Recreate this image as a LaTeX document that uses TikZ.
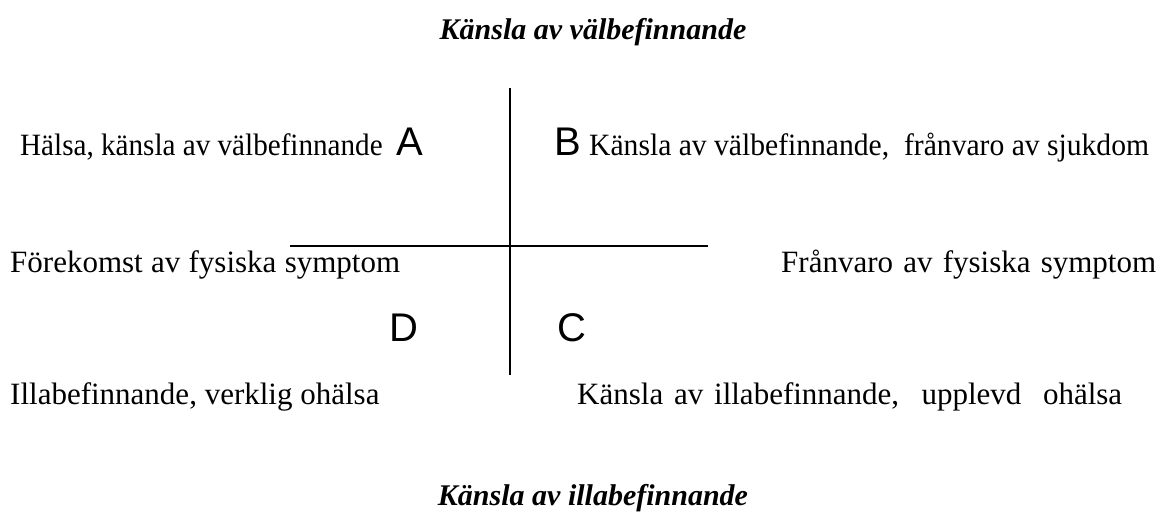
\documentclass[tikz,border=0pt]{standalone}
\usepackage{fontspec}
\setmainfont{Liberation Serif}
\newfontfamily\letterfont{Liberation Sans}
\tikzset{
  txt/.style={inner sep=0pt, anchor=base west, font=\fontsize{31}{35}\selectfont},
  ttl/.style={inner sep=0pt, anchor=base, font=\fontsize{30}{34}\selectfont\bfseries\itshape},
  letter/.style={inner sep=0pt, anchor=base west, font=\fontsize{40}{44}\selectfont\letterfont},
  axis/.style={line width=1.6pt, black}
}
\begin{document}
\begin{tikzpicture}[x=1pt,y=-1pt]
\useasboundingbox (0,0) rectangle (1164,513);
\node[ttl] (top) at (593,40) {Känsla av välbefinnande};
\node[ttl] (bot) at (593,505) {Känsla av illabefinnande};
\node[txt] (ta) at (20,156) {\scalebox{0.94}[1]{Hälsa, känsla av välbefinnande}};
\node[letter] (la) at (396,156) {A};
\node[letter] (lb) at (554,156) {B};
\node[txt] (tb) at (589,156) {\scalebox{0.955}[1]{Känsla av välbefinnande, \ frånvaro av sjukdom}};
\node[txt] (tl) at (10,272) {\makebox[390pt][s]{Förekomst av fysiska symptom}};
\node[txt] (tr) at (781,272) {\makebox[375pt][s]{Frånvaro av fysiska symptom}};
\node[letter] (ld) at (389,341) {D};
\node[letter] (lc) at (557,341) {C};
\node[txt] (bl) at (10,404) {Illabefinnande, verklig ohälsa};
\node[txt] (br) at (577,404) {\makebox[545pt][s]{Känsla av illabefinnande, \ upplevd \ ohälsa}};
\coordinate (vt) at (510,88);
\coordinate (vb) at (510,375);
\coordinate (hl) at (290,246);
\coordinate (hr) at (708,246);
\draw[axis] (vt) -- (vb);
\draw[axis] (hl) -- (hr);
\end{tikzpicture}
\end{document}
